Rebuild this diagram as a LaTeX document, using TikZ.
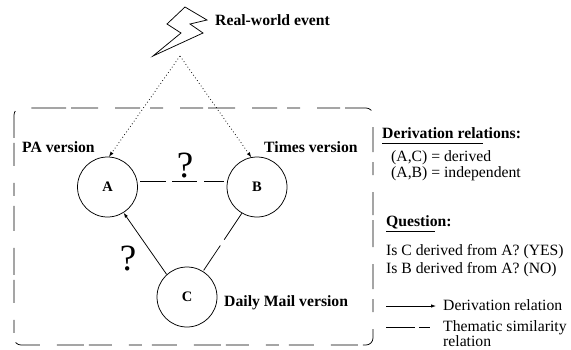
\documentclass[tikz,border=0pt]{standalone}
\usepackage{fontspec}
\setmainfont{Liberation Serif}
\usetikzlibrary{arrows.meta}
\tikzset{
  circ/.style={circle,draw,line width=0.75pt,minimum size=60pt,inner sep=0pt,font=\bfseries\fontsize{14.5}{15}\selectfont},
  blabel/.style={anchor=base west,inner sep=0pt,font=\bfseries\fontsize{15.7}{16}\selectfont},
  tlabel/.style={anchor=base west,inner sep=0pt,font=\fontsize{15.7}{16}\selectfont},
  qmark/.style={inner sep=0pt,font=\fontsize{37}{37}\selectfont},
  boxline/.style={line width=0.75pt,rounded corners=7pt,dash pattern=on 23pt off 5pt on 27pt off 17pt on 25pt off 10pt on 13pt off 17pt},
  derive/.style={line width=0.75pt,-{Latex[length=5pt,width=3.5pt]}},
  source/.style={line width=0.75pt,dash pattern=on 0.8pt off 2.5pt,-{Latex[length=5pt,width=3.5pt,line width=0pt]}}
}
\begin{document}
\begin{tikzpicture}[x=1pt,y=-1pt]
\useasboundingbox (0,0) rectangle (571,349);
% enclosing box
\draw[boxline] (43,108) -- (373,108) -- (373,345) -- (14,345) -- (14,108) -- (43,108);
% lightning
\draw[line width=0.75pt,line join=miter] (185,7) -- (207,20) -- (190,24) -- (203,33) -- (153,56) -- (181,33) -- (167,24) -- cycle;
\coordinate (apex) at (180,56);
\node[circ] (A) at (107.5,187) {A};
\node[circ] (B) at (257,187) {B};
\node[circ] (C) at (187,297) {C};
\draw[source] (apex) -- (A.87);
\draw[source] (apex) -- (B.101);
\draw[derive] (C.132) -- (A.-58);
\draw[line width=0.75pt,dash pattern=on 26pt off 6pt on 25pt off 7pt on 20pt off 6pt,shorten <=3pt] (A.10) -- (B.170);
\draw[line width=0.75pt,dash pattern=on 30pt off 7pt on 40pt,shorten <=1pt] (C.58) -- (B.-120);
\node[qmark] (q1) at (185,166) {?};
\node[qmark] (q2) at (128,259) {?};
\node[blabel] (ev) at (215,25) {Real-world event};
\node[blabel] (pa) at (22,152) {PA version};
\node[blabel] (ti) at (264,152) {Times version};
\node[blabel] (dm) at (224,306) {Daily Mail version};
\node[blabel] (dr) at (382,138) {Derivation relations:};
\coordinate (u1) at (382,143); \coordinate (u2) at (483,143);
\draw[line width=0.75pt] (u1) -- (u2);
\node[tlabel] (ac) at (391,161) {(A,C) = derived};
\node[tlabel] (ab) at (391,177) {(A,B) = independent};
\node[blabel] (qu) at (386,226) {Question:};
\coordinate (u3) at (386,231); \coordinate (u4) at (435,231);
\draw[line width=0.75pt] (u3) -- (u4);
\node[tlabel] (q3) at (386,255) {Is C derived from A? (YES)};
\node[tlabel] (q4) at (386,273) {Is B derived from A? (NO)};
\coordinate (l1) at (386,306); \coordinate (l2) at (436,306);
\draw[derive] (l1) -- (l2);
\node[tlabel] (ld) at (443,310) {Derivation relation};
\coordinate (l3) at (386,327); \coordinate (l4) at (430,327);
\draw[line width=0.75pt,dash pattern=on 29pt off 4pt on 11pt off 4pt] (l3) -- (l4);
\node[tlabel] (lt) at (443,331) {Thematic similarity};
\node[tlabel] (lr) at (443,346) {relation};
\end{tikzpicture}
\end{document}
